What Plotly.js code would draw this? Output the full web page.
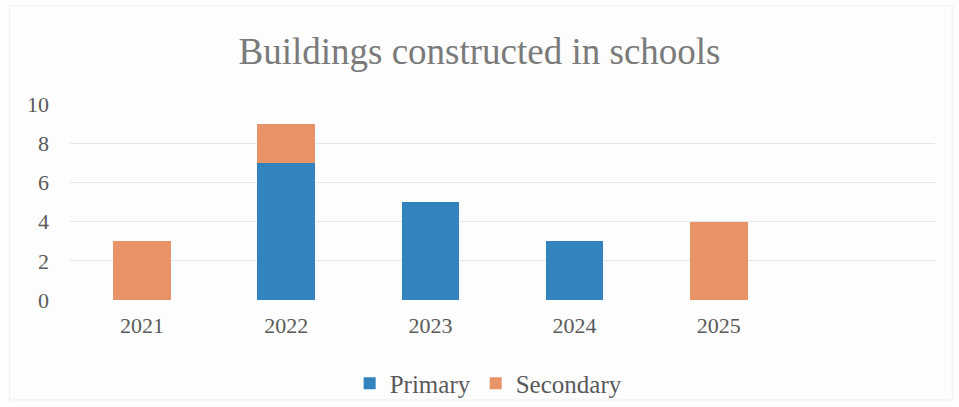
<!DOCTYPE html>
<html>
<head>
<meta charset="utf-8">
<script src="https://cdn.plot.ly/plotly-3.0.1.min.js"></script>
<style>html,body{margin:0;padding:0;background:#fff;}#chart{width:959px;height:407px;}</style>
</head>
<body>
<div id="chart"></div>
<script>
const years = ['2021', '2022', '2023', '2024', '2025'];
const primary = [0, 7, 5, 3, 0];
const secondary = [3, 2, 0, 0, 4];
const yTicks = [0, 2, 4, 6, 8, 10];

const font = 'Liberation Serif, Times New Roman, serif';
const data = [
  {type: 'bar', name: 'Primary', x: years, y: primary, marker: {color: '#3383BE'}},
  {type: 'bar', name: 'Secondary', x: years, y: secondary, marker: {color: '#E99468'}}
];
const layout = {
  width: 959, height: 407,
  barmode: 'stack', bargap: 0.6,
  paper_bgcolor: '#fdfdfd', plot_bgcolor: '#fdfdfd',
  margin: {l: 70, r: 24, t: 104, b: 107, autoexpand: false},
  title: {text: 'Buildings constructed in schools', x: 0.5, xanchor: 'center', y: 0.875, yanchor: 'middle',
          font: {family: font, size: 37, color: '#7a7a7a'}},
  xaxis: {type: 'category', range: [-0.5, 5.5], showgrid: false, zeroline: false, showline: false,
          automargin: false,
          ticks: '', ticklabelstandoff: 10, tickfont: {family: font, size: 22, color: '#5a5a5a'}},
  yaxis: {range: [0, 10], tickvals: yTicks, showgrid: true, gridcolor: '#e6e6e6', gridwidth: 1,
          automargin: false,
          zeroline: false, showline: false, ticks: '', ticklabelstandoff: 20,
          tickfont: {family: font, size: 22, color: '#5a5a5a'}},
  legend: {orientation: 'h', x: 0.484, xanchor: 'center', yref: 'container', y: 0.058, yanchor: 'middle',
           bgcolor: 'rgba(0,0,0,0)',
           font: {family: font, size: 25, color: '#5a5a5a'}, itemwidth: 30, traceorder: 'normal'},
  shapes: [{type: 'rect', xref: 'paper', yref: 'paper', x0: -0.07, x1: 1.02, y0: -0.51, y1: 1.5,
            line: {color: '#eeeeee', width: 1}}]
};
Plotly.newPlot('chart', data, layout, {displayModeBar: false, staticPlot: true});
</script>
</body>
</html>
